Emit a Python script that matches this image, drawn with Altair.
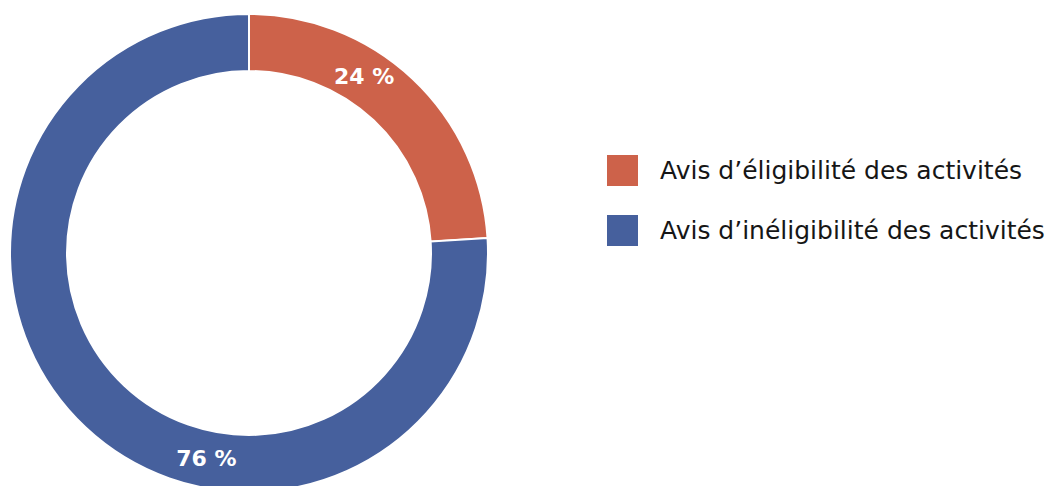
import altair as alt
import pandas as pd

categories = ["Avis d’éligibilité des activités", "Avis d’inéligibilité des activités"]
values = [24, 76]
labels = ["24 %", "76 %"]
colors = ["#CD624A", "#46609D"]

df = pd.DataFrame({"cat": categories, "val": values, "label": labels, "ord": [0, 1]})

theta_scale = alt.Scale(domain=[0, 100])
color_scale = alt.Scale(domain=categories, range=colors)

cx, cy = 241, 245

base = alt.Chart(df)

arcs = base.mark_arc(outerRadius=239, innerRadius=182, stroke="white", strokeWidth=2).encode(
    theta=alt.Theta("val:Q", stack=True, scale=theta_scale),
    order=alt.Order("ord:O"),
    color=alt.Color(
        "cat:N",
        scale=color_scale,
        sort=categories,
        legend=alt.Legend(
            title=None,
            orient="none",
            legendX=599,
            legendY=147,
            symbolType="square",
            symbolSize=960,
            symbolStrokeWidth=0,
            labelFontSize=25,
            labelFont="DejaVu Sans",
            labelColor="#161616",
            labelOffset=22,
            rowPadding=29,
            labelLimit=500,
        ),
    ),
    x=alt.value(cx),
    y=alt.value(cy),
)

texts = base.transform_window(
    cum="sum(val)", sort=[alt.SortField("ord")], frame=[None, 0]
).transform_calculate(
    pos="datum.cum - datum.val + 0.385 * datum.val"
).mark_text(
    radius=210, font="DejaVu Sans", fontSize=22, fontWeight="bold", color="white"
).encode(
    theta=alt.Theta("pos:Q", stack=None, scale=theta_scale),
    text="label:N",
    x=alt.value(cx),
    y=alt.value(cy),
)

chart = alt.layer(arcs, texts).properties(
    width=1046, height=478, padding=0, autosize=alt.AutoSizeParams(type="none")
).configure_view(stroke=None)

chart.save("out.html", embed_options={"renderer": "svg", "actions": False})
